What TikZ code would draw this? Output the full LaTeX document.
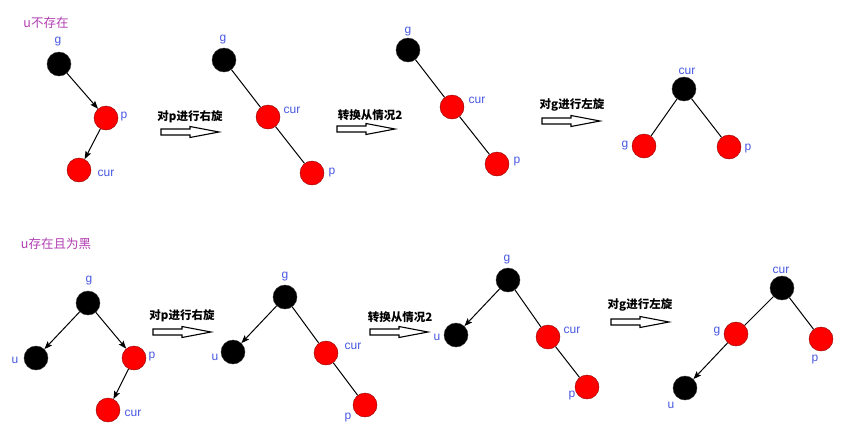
\documentclass[tikz,border=0pt]{standalone}
\usepackage{fontspec}
\setmainfont{Liberation Sans}
\newfontfamily\cjk{Noto Sans CJK SC}
\usetikzlibrary{arrows,arrows.meta}
\definecolor{lblblue}{RGB}{72,88,225}
\definecolor{titlemag}{RGB}{178,62,178}
\tikzset{
  blk/.style={circle, fill=black, draw=black!80, minimum size=24pt, inner sep=0pt},
  rd/.style={circle, fill=red, draw=red!55!black, minimum size=24pt, inner sep=0pt},
  lbl/.style={text=lblblue, font=\fontsize{12}{12}\selectfont},
  ttl/.style={text=titlemag, font=\cjk\fontsize{12.5}{12.5}\selectfont},
  oplbl/.style={font=\cjk\bfseries\fontsize{11.5}{11.5}\selectfont},
  link/.style={line width=1pt},
  hollow/.style={draw=black, line width=1.1pt, fill=white, line join=miter},
}
% hollow block arrow, left end at (#1,#2)
\newcommand{\hollowarrow}[2]{%
  \draw[hollow] (#1,#2-3) -- ++(29,0) -- ++(0,-2.5) -- (#1+58,#2) -- (#1+29,#2+5.5)
    -- ++(0,-2.5) -- (#1,#2+3) -- cycle;}

\begin{document}
\begin{tikzpicture}[x=1pt, y=-1pt, >={Stealth[length=8pt,width=6pt,inset=1.5pt]}]
\fill[white] (0,0) rectangle (848,432);

%% u does not exist
\node[ttl] (t1) at (46,23) {u不存在};

\node[blk] (g1) at (59,64) {};
\node[rd] (p1) at (106,118) {};
\node[rd] (c1) at (79,170) {};
\node[lbl] (lg1) at (58,42) {g};
\node[lbl] (lp1) at (124,117) {p};
\node[lbl] (lc1) at (106,173) {cur};
\draw [link, ->] (g1) -- (p1);
\draw [link, ->] (p1) -- (c1);

\node[oplbl] (o1) at (190,117) {对p进行右旋};
\hollowarrow{161}{132}

\node[blk] (g2) at (224,60) {};
\node[rd] (c2) at (268,117) {};
\node[rd] (p2) at (312,173) {};
\node[lbl] (lg2) at (223,40) {g};
\node[lbl] (lc2) at (292,110) {cur};
\node[lbl] (lp2) at (332,173) {p};
\draw [link] (g2) -- (c2);
\draw [link] (c2) -- (p2);

\node[oplbl] (o2) at (370,115) {转换从情况2};
\hollowarrow{337}{129}

\node[blk] (g3) at (408,50) {};
\node[rd] (c3) at (452,107) {};
\node[rd] (p3) at (497,164) {};
\node[lbl] (lg3) at (408,32) {g};
\node[lbl] (lc3) at (477,100) {cur};
\node[lbl] (lp3) at (517,162) {p};
\draw [link] (g3) -- (c3);
\draw [link] (c3) -- (p3);

\node[oplbl] (o3) at (572,105) {对g进行左旋};
\hollowarrow{542}{121}

\node[blk] (c4) at (684,89) {};
\node[rd] (g4) at (644,146) {};
\node[rd] (p4) at (729,147) {};
\node[lbl] (lc4) at (687,71) {cur};
\node[lbl] (lg4) at (625,146) {g};
\node[lbl] (lp4) at (748,149) {p};
\draw [link] (c4) -- (g4);
\draw [link] (c4) -- (p4);

%% u exists and is black
\node[ttl] (t2) at (56,244) {u存在且为黑};

\node[blk] (g5) at (88,303) {};
\node[blk] (u5) at (36,358) {};
\node[rd] (p5) at (134,358) {};
\node[rd] (c5) at (108,410) {};
\node[lbl] (lg5) at (89,281) {g};
\node[lbl] (lu5) at (15,360) {u};
\node[lbl] (lp5) at (152,357) {p};
\node[lbl] (lc5) at (133,413) {cur};
\draw [link, ->] (g5) -- (u5);
\draw [link, ->] (g5) -- (p5);
\draw [link, ->] (p5) -- (c5);

\node[oplbl] (o5) at (182,316) {对p进行右旋};
\hollowarrow{153}{332}

\node[blk] (g6) at (285,297) {};
\node[blk] (u6) at (233,352) {};
\node[rd] (c6) at (326,353) {};
\node[rd] (p6) at (365,405) {};
\node[lbl] (lg6) at (285,277) {g};
\node[lbl] (lu6) at (215,357) {u};
\node[lbl] (lc6) at (353,346) {cur};
\node[lbl] (lp6) at (348,418) {p};
\draw [link, ->] (g6) -- (u6);
\draw [link] (g6) -- (c6);
\draw [link] (c6) -- (p6);

\node[oplbl] (o6) at (400,317) {转换从情况2};
\hollowarrow{370}{332}

\node[blk] (g7) at (508,280) {};
\node[blk] (u7) at (456,335) {};
\node[rd] (c7) at (548,337) {};
\node[rd] (p7) at (587,387) {};
\node[lbl] (lg7) at (507,260) {g};
\node[lbl] (lu7) at (437,337) {u};
\node[lbl] (lc7) at (572,330) {cur};
\node[lbl] (lp7) at (572,396) {p};
\draw [link, ->] (g7) -- (u7);
\draw [link] (g7) -- (c7);
\draw [link] (c7) -- (p7);

\node[oplbl] (o7) at (640,305) {对g进行左旋};
\hollowarrow{611}{322}

\node[blk] (c8) at (782,288) {};
\node[rd] (g8) at (736,334) {};
\node[rd] (p8) at (821,339) {};
\node[blk] (u8) at (685,388) {};
\node[lbl] (lc8) at (781,270) {cur};
\node[lbl] (lg8) at (717,332) {g};
\node[lbl] (lp8) at (815,360) {p};
\node[lbl] (lu8) at (671,405) {u};
\draw [link] (c8) -- (g8);
\draw [link] (c8) -- (p8);
\draw [link, ->] (g8) -- (u8);
\end{tikzpicture}
\end{document}
